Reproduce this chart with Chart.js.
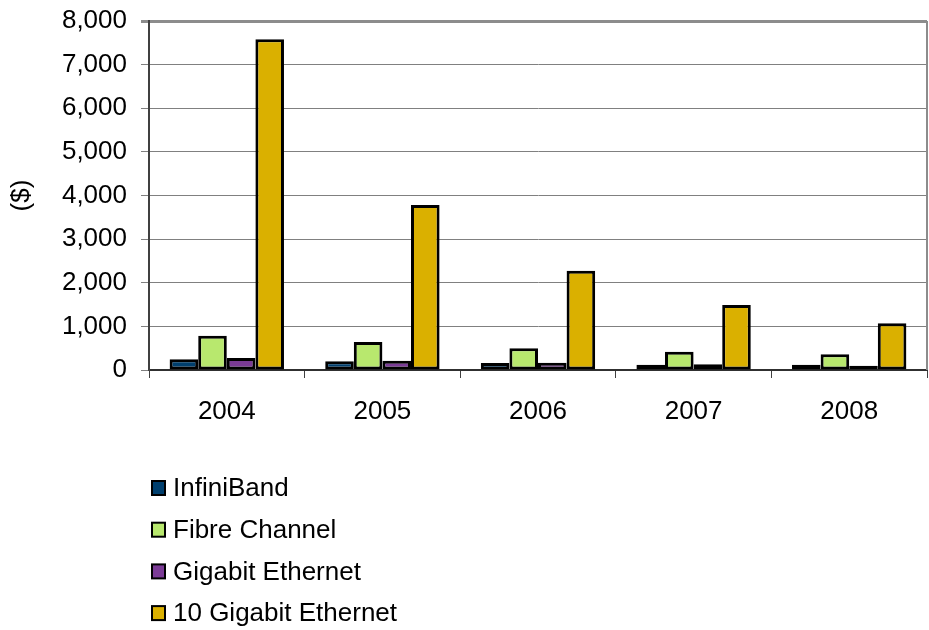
<!DOCTYPE html>
<html>
<head>
<meta charset="utf-8">
<title>Price per port</title>
<script src="https://cdn.jsdelivr.net/npm/chart.js"></script>
<style>
    html, body { margin: 0; padding: 0; background: #ffffff; }
    #wrap { width: 929px; height: 630px; position: relative; }
</style>
</head>
<body>
<div id="wrap"><canvas id="priceChart"></canvas></div>
<script>
// Chart data
const years = ['2004', '2005', '2006', '2007', '2008'];
const infiniBand = [245, 200, 160, 122, 120];
const fibreChannel = [787, 642, 498, 420, 360];
const gigabitEthernet = [276, 214, 168, 130, 98];
const tenGigabitEthernet = [7580, 3780, 2275, 1490, 1072];
const yTicks = [0, 1000, 2000, 3000, 4000, 5000, 6000, 7000, 8000];

const seriesNames = ['InfiniBand', 'Fibre Channel', 'Gigabit Ethernet', '10 Gigabit Ethernet'];
const seriesColors = ['#003f6e', '#b8e86e', '#7b3b96', '#dab000'];

const FONT = 'Arial, "Liberation Sans", sans-serif';
const FONT_SIZE = 26;

// Draws the vertical legend below the axis and the grey frame on the right
const frameAndLegend = {
    id: 'frameAndLegend',
    afterDatasetsDraw(chart) {
        const ctx = chart.ctx;
        const area = chart.chartArea;
        ctx.save();
        ctx.strokeStyle = '#8c8c8c';
        ctx.lineWidth = 2;
        ctx.beginPath();
        ctx.moveTo(area.right, area.top);
        ctx.lineTo(area.right, area.bottom);
        ctx.stroke();
        ctx.restore();
    },
    afterDraw(chart) {
        const ctx = chart.ctx;
        ctx.save();
        ctx.font = FONT_SIZE + 'px ' + FONT;
        ctx.textBaseline = 'middle';
        ctx.textAlign = 'left';
        chart.data.datasets.forEach((ds, i) => {
            const y = 488 + i * 41.7;
            ctx.fillStyle = ds.backgroundColor;
            ctx.fillRect(152, y - 7, 13, 14);
            ctx.strokeStyle = '#000000';
            ctx.lineWidth = 2;
            ctx.strokeRect(152, y - 7, 13, 14);
            ctx.fillStyle = '#000000';
            ctx.fillText(ds.label, 173, y + 1);
        });
        ctx.restore();
    }
};

const seriesValues = [infiniBand, fibreChannel, gigabitEthernet, tenGigabitEthernet];

new Chart(document.getElementById('priceChart'), {
    type: 'bar',
    data: {
        labels: years,
        datasets: seriesValues.map((vals, i) => ({
            label: seriesNames[i],
            data: vals,
            backgroundColor: seriesColors[i],
            borderColor: '#000000',
            borderWidth: 3,
            borderSkipped: false,
            categoryPercentage: 0.735,
            barPercentage: 1
        }))
    },
    options: {
        responsive: true,
        maintainAspectRatio: false,
        animation: false,
        devicePixelRatio: 1,
        layout: {
            padding: { top: 21, right: 2, left: 0, bottom: 0 }
        },
        plugins: {
            legend: { display: false },
            tooltip: { enabled: false }
        },
        scales: {
            x: {
                grid: {
                    offset: true,
                    drawOnChartArea: false,
                    tickLength: 8,
                    color: '#404040',
                    lineWidth: 1
                },
                border: { color: '#303030', width: 2 },
                ticks: {
                    color: '#000000',
                    padding: 18,
                    font: { family: FONT, size: FONT_SIZE }
                },
                afterFit: (scale) => { scale.height = 260; }
            },
            y: {
                min: 0,
                max: 8000,
                afterBuildTicks: (scale) => {
                    scale.ticks = yTicks.map(v => ({ value: v }));
                },
                grid: {
                    color: (c) => c.tick && c.tick.value === 8000 ? '#8c8c8c' : '#808080',
                    lineWidth: (c) => c.tick && c.tick.value === 8000 ? 3 : 1,
                    tickLength: 8
                },
                border: { color: '#404040', width: 2 },
                ticks: {
                    color: '#000000',
                    padding: 14,
                    // small line height keeps the top label from pushing the plot down
                    font: { family: FONT, size: FONT_SIZE, lineHeight: 0.4 },
                    callback: (v) => Number(v).toLocaleString('en-US')
                },
                title: {
                    display: true,
                    text: '($)',
                    color: '#000000',
                    padding: { top: 6, bottom: 0 },
                    font: { family: FONT, size: FONT_SIZE }
                },
                afterFit: (scale) => { scale.width = 149; }
            }
        }
    },
    plugins: [frameAndLegend]
});
</script>
</body>
</html>
